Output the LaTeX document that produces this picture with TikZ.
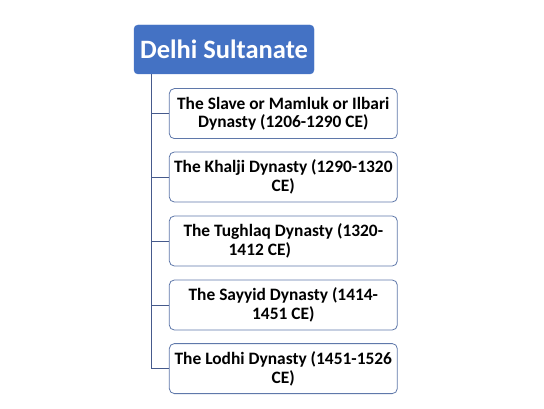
\documentclass[tikz,border=0pt]{standalone}
\usepackage{fontspec}
\setmainfont{Carlito}
\definecolor{rootblue}{RGB}{68,114,196}
\definecolor{edgeblue}{RGB}{95,120,170}
\definecolor{linkblue}{RGB}{70,90,140}
\begin{document}
\begin{tikzpicture}[x=1pt,y=-1pt,
		rootbox/.style={fill=rootblue,draw=rootblue,rounded corners=4pt,minimum width=180pt,minimum height=49pt,inner sep=0pt,text=white,font=\fontsize{26.5}{30}\selectfont\bfseries},
		dynbox/.style={draw=edgeblue,line width=0.8pt,fill=white,rounded corners=5pt,minimum width=228pt,minimum height=50pt,inner sep=0pt,align=center,font=\fontsize{17.4}{18.6}\selectfont\bfseries},
		link/.style={draw=linkblue,line width=0.9pt}]
				\useasboundingbox (0,0) rectangle (544,409);
				\node[rootbox] (root) at (224,49.5) {Delhi Sultanate};
				\node[dynbox] (slave) at (283.3,113.6) {The Slave or Mamluk or Ilbari\\Dynasty (1206-1290 CE)};
				\node[dynbox] (khalji) at (283.3,177) {The Khalji Dynasty (1290-1320\\CE)};
				\node[dynbox] (tughlaq) at (283.3,241) {The Tughlaq Dynasty (1320-\\1412 CE)\hspace*{47pt}};
				\node[dynbox] (sayyid) at (283.3,305) {The Sayyid Dynasty (1414-\\1451 CE)};
				\node[dynbox] (lodhi) at (283.3,368.6) {The Lodhi Dynasty (1451-1526\\CE)};
				\foreach \d in {slave,khalji,tughlaq,sayyid,lodhi}
					\draw[link] ([xshift=17.5pt]root.south west) |- (\d.west);
			\end{tikzpicture}
\end{document}
